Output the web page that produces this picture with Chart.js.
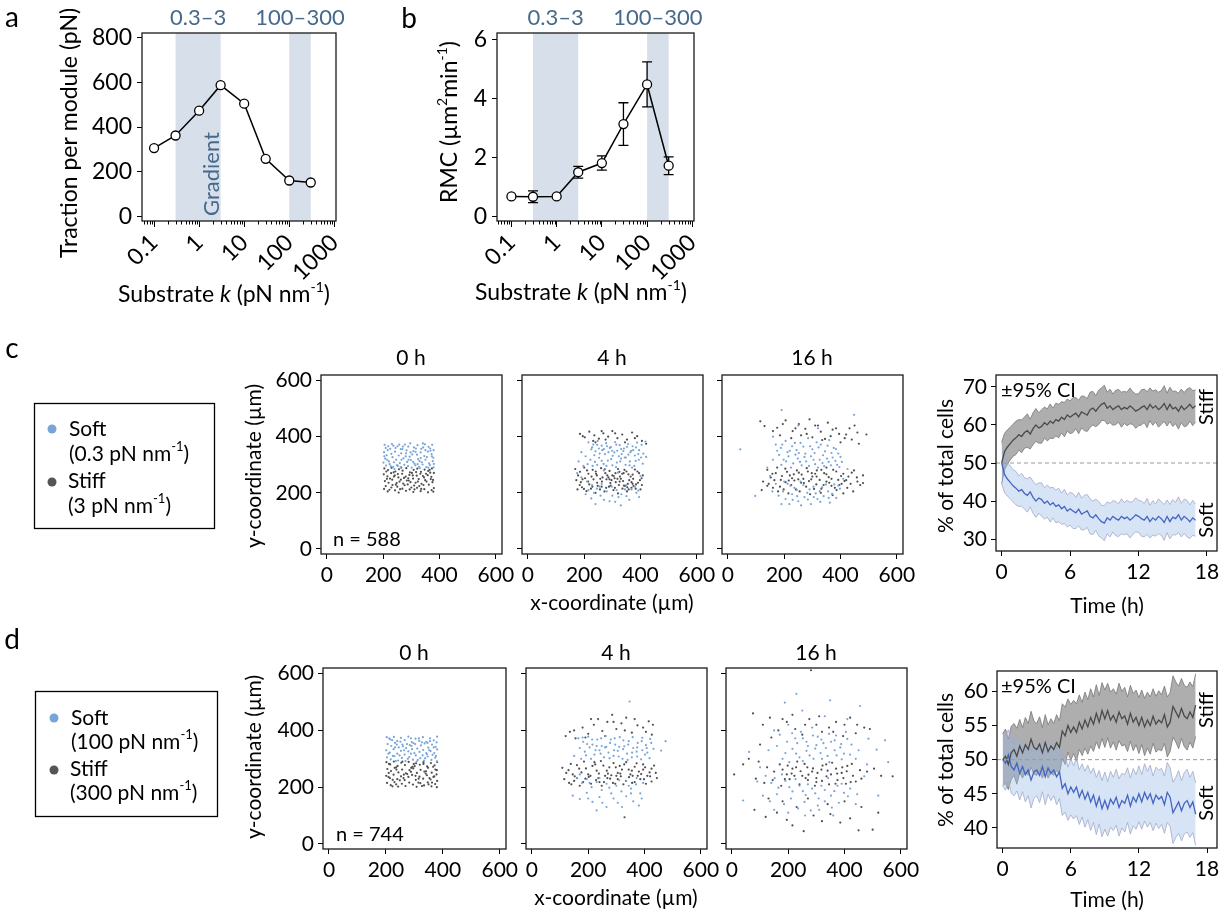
<!DOCTYPE html>
<html>
<head>
<meta charset="utf-8">
<title>Substrate stiffness and cell sorting</title>
<script src="https://cdn.jsdelivr.net/npm/chart.js@4.4.1/dist/chart.umd.min.js"></script>
<style>
  html, body { margin: 0; padding: 0; background: #fff; }
  #fig { position: relative; width: 1225px; height: 916px; overflow: hidden; }
  #fig canvas { position: absolute; left: 0; top: 0; }
</style>
</head>
<body>
<div id="fig">
  <canvas id="chartA" width="1225" height="916"></canvas>
  <canvas id="chartB" width="1225" height="916"></canvas>
  <canvas id="chartC0" width="1225" height="916"></canvas>
  <canvas id="chartC4" width="1225" height="916"></canvas>
  <canvas id="chartC16" width="1225" height="916"></canvas>
  <canvas id="chartCT" width="1225" height="916"></canvas>
  <canvas id="chartD0" width="1225" height="916"></canvas>
  <canvas id="chartD4" width="1225" height="916"></canvas>
  <canvas id="chartD16" width="1225" height="916"></canvas>
  <canvas id="chartDT" width="1225" height="916"></canvas>
</div>
<script>
// ---- panel a / b data ----
const kValues = [0.1, 0.3, 1, 3, 10, 30, 100, 300];
const tractionPN = [306, 362, 473, 587, 504, 258, 161, 152];
const rmcMean = [0.68, 0.67, 0.68, 1.50, 1.81, 3.13, 4.47, 1.72];
const rmcErr = [0, 0.20, 0, 0.20, 0.24, 0.72, 0.76, 0.30];
const gradientBands = [[0.3, 3], [100, 300]];
const bandLabels = ["0.3\u20133", "100\u2013300"];
const logTicks = [0.1, 1, 10, 100, 1000];
const tractionTicks = [0, 200, 400, 600, 800];
const rmcTicks = [0, 2, 4, 6];

// ---- panel c / d scatter data (x, y pairs in µm) ----
const coordTicks = [0, 200, 400, 600];

const c0Soft = [205,371, 218,366, 231,374, 244,360, 257,372, 270,365, 283,351, 296,376, 309,362, 322,370, 335,357, 348,373, 361,364, 374,371, 379,352,
  203,345, 216,352, 229,339, 242,347, 255,333, 268,356, 281,341, 294,329, 307,349, 320,336, 333,344, 346,331, 359,347, 372,338, 378,325,
  207,322, 220,312, 233,327, 246,318, 259,306, 272,323, 285,310, 298,317, 311,304, 324,320, 337,309, 350,318, 363,305, 376,313, 201,308,
  210,297, 223,302, 236,293, 249,299, 262,291, 275,300, 288,295, 301,290, 314,298, 327,293, 340,301, 353,292, 366,299, 379,291, 212,334,
  225,357, 238,309, 251,366, 264,341, 277,372, 290,318, 303,337, 316,358, 329,313, 342,362, 355,327, 368,350, 380,303, 240,285, 330,288,
  209,360, 236,368, 262,356, 289,365, 315,346, 341,376, 367,358, 214,318, 252,296, 280,330, 306,310, 333,324, 360,290, 373,330, 227,294,
  265,318, 297,344, 322,302, 350,352, 204,330];
const c0Stiff = [204,287, 217,281, 230,289, 243,276, 256,284, 269,279, 282,288, 295,273, 308,282, 321,286, 334,275, 347,283, 360,278, 373,287, 380,271,
  202,266, 215,259, 228,270, 241,262, 254,255, 267,268, 280,258, 293,264, 306,251, 319,261, 332,268, 345,255, 358,263, 371,257, 377,246,
  206,242, 219,236, 232,247, 245,229, 258,240, 271,233, 284,244, 297,238, 310,226, 323,240, 336,232, 349,245, 362,229, 375,238, 209,224,
  203,214, 216,205, 229,219, 242,209, 255,201, 268,215, 281,207, 294,212, 307,203, 320,218, 333,206, 346,213, 359,202, 372,210, 380,217,
  224,251, 237,273, 250,222, 263,247, 276,227, 289,252, 302,271, 315,236, 328,224, 341,260, 354,240, 367,272, 287,230, 311,212, 252,267,
  211,276, 238,258, 264,290, 291,244, 317,274, 343,228, 369,249, 222,211, 248,235, 274,253, 300,219, 326,249, 352,268, 378,204, 213,250,
  260,213, 305,262, 335,214, 365,282, 233,228];
const c4Soft = [215,380, 232,372, 248,385, 262,368, 278,377, 295,363, 310,381, 326,370, 341,358, 356,374, 372,366, 388,379, 404,371, 418,383, 225,355,
  240,348, 255,340, 270,356, 286,345, 301,332, 317,350, 333,338, 348,326, 364,345, 380,333, 395,352, 410,340, 190,345, 205,330, 222,318,
  238,310, 253,325, 269,303, 284,315, 300,298, 316,308, 331,322, 347,300, 362,312, 378,296, 394,318, 408,304, 180,312, 197,296, 420,328,
  190,255, 210,240, 228,228, 245,215, 262,232, 280,205, 298,222, 315,210, 332,195, 350,228, 368,212, 385,200, 205,195, 225,180, 258,190,
  290,170, 322,185, 360,175, 392,208, 175,270, 400,260, 240,160, 330,155,
  228,362, 246,371, 264,352, 281,366, 299,350, 314,372, 331,356, 352,364, 367,350, 384,362, 236,334, 252,358, 274,338, 291,360, 307,344,
  323,330, 339,349, 357,336, 374,352, 392,338, 246,300, 262,314, 279,296, 296,320, 313,292, 328,312, 344,326, 361,298, 383,314, 402,326,
  212,302, 230,296, 270,280, 320,272, 370,290, 215,210, 255,222, 300,190, 345,212, 380,222, 270,175, 310,168, 350,188, 235,200, 395,185];
const c4Stiff = [185,410, 202,398, 218,418, 236,405, 252,393, 268,412, 285,400, 300,420, 318,395, 335,408, 352,390, 370,415, 388,402, 405,385, 420,375,
  232,385, 276,390, 345,380,
  168,285, 185,275, 200,290, 215,268, 230,282, 245,262, 260,288, 275,270, 290,278, 305,260, 320,285, 335,268, 350,276, 365,258, 380,283, 395,270, 408,262,
  172,245, 188,238, 203,252, 218,230, 233,248, 248,225, 263,240, 278,218, 293,235, 308,252, 323,228, 338,242, 353,220, 368,238, 383,215, 398,245,
  176,212, 192,220, 208,206, 224,215, 240,200, 256,212, 272,205, 288,222, 304,210, 320,198, 336,215, 352,205, 368,218, 384,230, 400,212,
  242,268, 286,255, 330,250, 372,265, 312,238, 355,232, 265,255, 300,262, 318,250, 340,270, 360,245, 325,275, 345,225, 290,248, 372,232,
  178,262, 194,248, 210,280, 226,258, 241,276, 257,250, 273,284, 282,262, 297,245, 311,270, 327,258, 343,282, 357,266, 374,250, 389,276,
  404,252, 184,228, 199,214, 214,240, 229,222, 246,236, 262,222, 279,248, 294,226, 309,218, 326,240, 341,226, 358,212, 375,224, 391,236,
  405,228, 195,402, 262,420, 310,412, 380,395, 240,380];
const c16Soft = [44,355, 97,189, 191,495, 448,478,
  170,372, 188,360, 205,385, 220,350, 238,378, 252,342, 268,365, 285,395, 300,355, 315,380, 330,372, 345,348, 360,388, 376,360, 392,340,
  182,335, 198,318, 215,330, 232,305, 248,322, 262,298, 278,312, 295,330, 310,302, 326,318, 342,295, 358,310, 372,326, 388,300, 160,318,
  140,290, 405,310, 425,285, 150,260,
  200,240, 222,225, 245,210, 268,228, 290,212, 312,198, 335,220, 356,205, 378,230, 398,215,
  158,205, 180,190, 205,178, 228,195, 250,170, 272,185, 295,160, 318,178, 340,188, 362,165, 385,182, 190,160, 305,185, 260,155, 230,175,
  175,350, 193,372, 212,345, 228,366, 244,352, 258,378, 275,340, 292,366, 308,342, 322,362, 338,334, 354,368, 368,342, 384,356, 400,328,
  190,300, 207,312, 224,290, 240,336, 256,310, 272,328, 288,296, 304,318, 320,290, 336,306, 352,322, 366,298, 382,314, 396,292, 212,232,
  236,218, 258,240, 282,200, 304,222, 326,206, 348,230, 370,196, 392,226, 170,232, 196,205, 218,160, 246,188, 284,176, 328,168, 358,182,
  250,440, 320,430, 160,400, 410,250];
const c16Stiff = [115,455, 130,438, 175,432, 205,458, 230,420, 252,445, 275,428, 290,462, 310,440, 330,418, 355,450, 372,425, 395,410, 415,395, 432,430,
  460,415, 492,408, 185,405, 225,395, 260,405, 300,398, 335,388, 365,402, 400,380, 440,390, 465,375,
  140,282, 158,268, 175,290, 192,260, 210,275, 228,252, 245,280, 262,265, 280,288, 298,270, 315,258, 332,282, 350,266, 368,250, 385,276,
  402,260, 420,245, 440,272, 458,255, 480,262,
  125,240, 145,232, 165,245, 185,222, 205,238, 225,228, 242,212, 260,236, 278,222, 296,248, 314,230, 332,215, 350,240, 368,225, 386,210,
  404,232, 424,218, 445,205, 470,228,
  178,205, 215,198, 255,205, 292,195, 330,200, 372,192, 410,198, 250,248, 310,268, 350,290,
  152,255, 170,270, 188,246, 204,286, 220,262, 236,244, 252,272, 268,250, 284,276, 300,258, 316,280, 326,246, 342,270, 358,256, 374,282,
  392,246, 410,268, 428,258, 448,280, 140,225, 160,218, 198,212, 216,244, 234,266, 270,235, 288,242, 306,214, 340,228, 360,236, 380,218,
  396,228, 414,242, 436,232, 460,240, 160,420, 195,445, 240,430, 280,410, 320,440, 345,392, 384,430, 420,408, 450,440, 120,210, 480,235];

const d0Soft = [203,376, 215,368, 228,377, 240,362, 253,374, 266,366, 279,378, 291,359, 304,371, 317,363, 330,376, 342,360, 355,372, 368,365, 380,378,
  206,352, 219,345, 232,356, 245,340, 258,350, 271,338, 284,348, 297,355, 310,336, 323,347, 336,354, 349,339, 362,350, 375,342, 378,358,
  201,330, 214,322, 227,334, 240,318, 253,328, 266,315, 279,326, 292,334, 305,312, 318,324, 331,331, 344,316, 357,327, 370,320, 380,333,
  204,305, 217,298, 230,309, 243,294, 256,303, 269,292, 282,306, 295,297, 308,290, 321,302, 334,294, 347,308, 360,296, 373,304, 379,291,
  222,366, 248,312, 274,352, 300,320, 326,358, 352,330, 232,340, 288,372, 338,302, 364,314,
  212,372, 238,350, 264,330, 290,345, 316,372, 342,320, 368,340, 225,310, 251,360, 277,300, 303,352, 329,312, 355,362, 376,310, 209,318,
  260,344, 312,296, 346,356, 235,292, 288,318];
const d0Stiff = [202,288, 215,280, 228,290, 241,275, 254,286, 267,278, 280,289, 293,272, 306,284, 319,279, 332,288, 345,273, 358,285, 371,277, 380,289,
  205,264, 218,257, 231,268, 244,252, 257,262, 270,249, 283,260, 296,266, 309,250, 322,261, 335,255, 348,268, 361,251, 374,262, 378,245,
  201,240, 214,232, 227,244, 240,228, 253,238, 266,225, 279,236, 292,243, 305,226, 318,237, 331,230, 344,242, 357,227, 370,238, 380,222,
  204,215, 217,207, 230,218, 243,202, 256,212, 269,204, 282,216, 295,209, 308,201, 321,214, 334,206, 347,217, 360,203, 373,211, 379,200,
  210,250, 236,270, 262,232, 288,254, 314,216, 340,248, 366,272, 224,226, 350,210, 298,282,
  211,282, 237,262, 263,244, 289,268, 315,230, 341,256, 367,236, 223,203, 249,224, 275,246, 301,274, 327,204, 353,232, 379,260, 209,236,
  258,290, 304,240, 332,282, 362,216, 236,210];
const d4Soft = [347,502, 475,362, 459,329,
  165,372, 182,360, 200,378, 215,350, 232,368, 248,345, 262,380, 278,356, 294,372, 310,342, 325,365, 342,350, 358,376, 374,340, 390,362,
  405,348, 420,370, 432,335,
  170,338, 188,325, 205,340, 222,315, 240,330, 256,305, 272,322, 290,310, 305,328, 322,300, 338,318, 355,305, 372,325, 388,298, 402,315,
  418,302, 150,310, 175,300,
  160,232, 178,215, 195,228, 212,200, 230,218, 248,190, 265,212, 282,178, 300,205, 318,185, 335,222, 352,195, 370,210, 385,178,
  145,170, 170,158, 195,180, 215,148, 240,165, 265,130, 290,160, 305,145, 335,168, 360,150, 380,135, 230,118,
  180,375, 196,352, 214,368, 230,345, 246,372, 264,342, 280,368, 296,350, 312,376, 328,344, 344,362, 360,338, 376,356, 392,374, 408,338,
  424,356, 192,312, 210,300, 226,330, 244,318, 260,340, 276,302, 292,330, 308,308, 324,334, 340,296, 356,322, 374,308, 392,330, 410,322,
  170,245, 205,215, 240,232, 275,198, 310,225, 344,205, 372,232, 395,215, 200,160, 250,145, 320,130, 352,178, 390,160];
const d4Stiff = [329,94,
  120,380, 135,395, 155,372, 180,410, 200,388, 220,420, 235,440, 250,398, 268,430, 285,455, 300,405, 318,425, 335,445, 355,392, 375,418,
  395,410, 415,432, 426,385,
  108,268, 122,250, 138,282, 152,238, 168,265, 185,290, 200,245, 215,275, 230,258, 245,292, 260,240, 275,270, 290,285, 305,250, 320,262,
  335,288, 350,245, 365,272, 380,255, 395,280, 410,240, 425,265, 440,250,
  115,228, 132,215, 150,222, 170,205, 190,230, 210,212, 228,225, 248,205, 268,232, 288,215, 305,228, 325,210, 345,235, 365,218, 385,228,
  405,212, 425,220, 444,232, 225,280, 270,248, 312,275, 355,258, 395,262, 240,218, 300,240,
  130,260, 145,245, 160,278, 176,252, 192,266, 208,240, 222,288, 238,248, 254,276, 266,258, 282,242, 298,270, 314,248, 328,280, 344,262,
  358,240, 372,284, 388,246, 402,270, 418,252, 434,276, 140,210, 160,232, 182,218, 202,236, 236,232, 256,218, 278,230, 296,212, 316,238,
  334,222, 356,215, 376,240, 398,228, 420,238, 150,400, 190,375, 210,440, 260,380, 290,430, 330,400, 365,440, 405,395, 430,420];
const d16Soft = [229,529, 188,498, 349,506, 455,486, 40,153, 61,324, 555,288, 544,365, 485,371, 514,332,
  150,400, 170,385, 200,420, 225,372, 245,395, 265,360, 285,410, 305,378, 325,355, 345,388, 365,365, 385,340, 405,395, 425,350,
  130,330, 160,345, 190,320, 215,335, 240,305, 265,328, 290,300, 315,320, 340,310, 365,330, 390,298, 420,315, 450,330,
  100,270, 480,280, 120,240, 470,238,
  140,215, 165,198, 190,222, 215,185, 240,205, 262,172, 285,195, 308,160, 330,190, 352,170, 375,205, 398,180, 420,195, 445,175,
  110,170, 135,150, 160,175, 185,140, 210,160, 235,125, 258,148, 280,118, 305,135, 330,150, 355,128, 380,145, 520,170,
  196,360, 214,390, 232,355, 252,372, 270,345, 288,382, 300,348, 318,368, 334,338, 352,360, 370,382, 388,352, 410,370, 180,300, 204,288,
  228,318, 252,292, 276,312, 296,336, 320,300, 346,288, 372,312, 398,318, 440,300, 152,232, 178,245, 204,200, 226,228, 252,186, 270,210,
  296,178, 318,205, 342,232, 364,186, 390,212, 412,168, 150,120, 200,110, 260,100, 310,120, 360,100, 440,140, 250,470, 330,450, 410,440, 90,220];
const d16Stiff = [281,612, 8,245, 571,238,
  75,460, 110,420, 135,445, 165,400, 195,430, 225,405, 250,385, 275,440, 300,420, 320,395, 345,410, 370,430, 395,380, 420,445, 445,420, 470,410,
  95,290, 125,270, 150,255, 170,280, 195,245, 215,265, 232,290, 250,240, 268,270, 285,255, 300,232, 318,262, 335,280, 352,245, 370,265,
  390,250, 410,275, 430,240, 455,260, 480,255, 505,265, 530,240,
  85,230, 115,215, 145,225, 175,205, 205,228, 240,210, 270,225, 295,205, 320,222, 345,210, 375,225, 405,212, 440,220,
  80,120, 120,95, 160,110, 195,85, 215,65, 255,45, 290,100, 320,80, 350,105, 385,75, 420,90, 450,48, 500,50,
  180,262, 198,276, 212,248, 228,270, 244,256, 258,282, 272,244, 288,266, 304,250, 322,276, 340,258, 356,286, 374,248, 392,270, 408,256,
  426,282, 188,228, 222,240, 262,232, 300,218, 336,238, 368,212, 396,232, 422,218, 460,230, 60,300, 100,350, 140,375, 180,440, 215,455,
  260,420, 310,450, 360,395, 400,420, 440,390, 490,405, 130,160, 180,150, 230,130, 270,160, 340,140, 400,150, 460,130, 520,110, 40,280];

// ---- time courses: % stiff cells every 0.25 h, with 95% CI half-width ----
const sampleStepH = 0.25;
const timeTicks = [0, 6, 12, 18];
const pctTicksC = [30, 40, 50, 60, 70];
const pctTicksD = [40, 45, 50, 55, 60];
const evenSplit = 50;
const cStiffPct = [50, 53, 54.2, 55.1, 56, 56.6, 57.4, 57, 58, 58.5, 57.6, 59, 60, 59.2, 59.6, 60.6,
  60, 61, 60.4, 61.4, 61, 62, 61.4, 62.6, 62, 62.6, 63.1, 62.1, 63.4, 63, 62.6, 64,
  64.4, 63.6, 64.6, 65.4, 65.8, 64.4, 65, 64, 64.6, 65, 64, 64.6, 64.2, 65, 64.4, 63.6,
  64, 64.6, 65, 64, 65.4, 64.4, 65, 64, 64.6, 65.6, 64, 65.4, 64.2, 64.6, 63.6, 65,
  64, 64.6, 65.4, 64.4, 65];
const cCiHalf = [5.5, 4.8, 4.5, 4.3, 4.2, 4.4, 4.0, 4.3, 4.1, 4.4, 3.9, 4.2, 4.3, 4.0, 4.4, 4.1,
  4.2, 4.5, 4.0, 4.3, 4.4, 4.1, 4.5, 4.2, 4.3, 4.6, 4.1, 4.4, 4.2, 4.5, 4.3, 4.6,
  4.4, 4.1, 4.5, 4.3, 4.6, 4.2, 4.4, 4.1, 4.5, 4.3, 4.6, 4.2, 4.4, 4.7, 4.3, 4.5,
  4.2, 4.6, 4.4, 4.7, 4.3, 4.5, 4.2, 4.6, 4.4, 4.7, 4.3, 4.5, 4.6, 4.3, 4.7, 4.4,
  4.5, 4.8, 4.4, 4.6, 4.2];
const dStiffPct = [50, 50.5, 49.3, 51, 51.5, 50.5, 52, 51, 52.2, 51.5, 53, 51.8, 51.5, 52.3, 51, 52.5,
  51.2, 52, 51.5, 52.5, 51.8, 54.2, 53.5, 55, 54, 54.8, 54, 55.5, 54.5, 55.8, 54.8, 56.2,
  55.2, 56.8, 55.5, 57.2, 56, 57.2, 55.8, 56.5, 55.5, 57, 56, 56.4, 55.2, 56.8, 55.5, 56.2,
  55, 56.2, 54.8, 55.8, 55, 56.4, 55.2, 55.8, 55.4, 56.6, 54.8, 55.5, 57.8, 57, 56.2, 57.5,
  56.4, 56, 57, 56.2, 58];
const dCiHalf = [3.8, 4.0, 3.7, 3.9, 3.8, 4.1, 3.9, 3.7, 4.0, 3.8, 4.1, 3.9, 3.8, 4.0, 3.7, 4.1,
  3.9, 4.0, 3.8, 4.1, 3.9, 4.0, 4.2, 3.9, 4.1, 3.9, 4.2, 4.0, 3.9, 4.1, 4.0, 4.2,
  4.0, 4.2, 3.9, 4.1, 4.2, 4.0, 4.1, 3.9, 4.1, 4.2, 4.0, 4.2, 4.0, 4.1, 4.2, 4.0,
  4.1, 4.0, 4.2, 4.1, 4.2, 4.0, 4.1, 4.3, 4.1, 4.2, 4.4, 4.3, 4.5, 4.4, 4.6, 4.4,
  4.5, 4.6, 4.4, 4.5, 4.6];

// ---- styling ----
const W = 1225, H = 916;
const FONT = "Lato, 'Open Sans', sans-serif";
const bandFill = "#d7e0ea";
const bandText = "#46698c";
const softDot = "#78a5d8";
const stiffDot = "#4f4f4f";

Chart.defaults.font.family = FONT;
Chart.defaults.color = "#000";
Chart.defaults.animation = false;
Chart.defaults.responsive = false;
Chart.defaults.plugins.legend.display = false;
Chart.defaults.plugins.tooltip.enabled = false;

function pairs(flat) {
  const out = [];
  for (let i = 0; i < flat.length; i += 2) out.push({ x: flat[i], y: flat[i + 1] });
  return out;
}

// text with italic / superscript pieces: parts = [[text, style]], style "" | "i" | "s"
function richText(ctx, it) {
  const size = it.s || 20;
  const parts = typeof it.p === "string" ? [[it.p, ""]] : it.p;
  const fontFor = st => (st === "i" ? "italic " : "") + (st === "s" ? Math.round(size * 0.62) : size) + "px " + FONT;
  let w = 0;
  parts.forEach(([t, st]) => { ctx.font = fontFor(st); w += ctx.measureText(t).width; });
  ctx.save();
  ctx.translate(it.x, it.y);
  if (it.r) ctx.rotate(it.r);
  ctx.fillStyle = it.c || "#000";
  ctx.textBaseline = "middle";
  ctx.textAlign = "left";
  let cx = it.a === "left" ? 0 : -w / 2;
  parts.forEach(([t, st]) => {
    ctx.font = fontFor(st);
    ctx.fillText(t, cx, st === "s" ? -size * 0.33 : 0);
    cx += ctx.measureText(t).width;
  });
  ctx.restore();
}

function notes(items, shapes) {
  return {
    id: "notes",
    afterDraw(chart) {
      const ctx = chart.ctx;
      (shapes || []).forEach(sh => {
        ctx.save();
        if (sh.rect) {
          ctx.strokeStyle = "#000"; ctx.lineWidth = 1.3;
          ctx.strokeRect(sh.rect[0], sh.rect[1], sh.rect[2], sh.rect[3]);
        } else if (sh.dot) {
          ctx.fillStyle = sh.dot[3];
          ctx.beginPath(); ctx.arc(sh.dot[0], sh.dot[1], sh.dot[2], 0, Math.PI * 2); ctx.fill();
        }
        ctx.restore();
      });
      items.forEach(it => richText(ctx, it));
    }
  };
}

const framePlugin = {
  id: "frame",
  afterDraw(chart) {
    const { ctx, chartArea: a } = chart;
    ctx.save();
    ctx.strokeStyle = "#1a1a1a";
    ctx.lineWidth = 1.3;
    ctx.strokeRect(a.left, a.top, a.right - a.left, a.bottom - a.top);
    ctx.restore();
  }
};
Chart.register(framePlugin);

const gradientShade = {
  id: "gradientShade",
  beforeDatasetsDraw(chart) {
    const { ctx, chartArea: a, scales: { x } } = chart;
    ctx.save();
    ctx.fillStyle = bandFill;
    gradientBands.forEach(([lo, hi]) => {
      const x0 = x.getPixelForValue(lo), x1 = x.getPixelForValue(hi);
      ctx.fillRect(x0, a.top, x1 - x0, a.bottom - a.top);
    });
    ctx.font = "22px " + FONT;
    ctx.fillStyle = bandText;
    ctx.textAlign = "center";
    ctx.textBaseline = "middle";
    gradientBands.forEach(([lo, hi], i) => {
      const cx = (x.getPixelForValue(lo) + x.getPixelForValue(hi)) / 2;
      ctx.fillText(bandLabels[i], cx, 18);
    });
    ctx.restore();
  }
};

const minorLogTicks = {
  id: "minorLogTicks",
  afterDraw(chart) {
    const { ctx, chartArea: a, scales: { x } } = chart;
    ctx.save();
    ctx.strokeStyle = "#000";
    ctx.lineWidth = 1;
    ctx.beginPath();
    for (let e = -2; e <= 3; e++) {
      for (let k = 2; k <= 9; k++) {
        const v = k * Math.pow(10, e);
        if (v < x.min || v > x.max) continue;
        const px = Math.round(x.getPixelForValue(v)) + 0.5;
        ctx.moveTo(px, a.bottom);
        ctx.lineTo(px, a.bottom + 3.5);
      }
    }
    ctx.stroke();
    ctx.restore();
  }
};

const errorBars = {
  id: "errorBars",
  beforeDatasetsDraw(chart) {
    const { ctx, scales: { x, y } } = chart;
    ctx.save();
    ctx.strokeStyle = "#000";
    ctx.lineWidth = 1.3;
    ctx.beginPath();
    kValues.forEach((k, i) => {
      if (!rmcErr[i]) return;
      const px = x.getPixelForValue(k);
      const y1 = y.getPixelForValue(rmcMean[i] + rmcErr[i]);
      const y2 = y.getPixelForValue(rmcMean[i] - rmcErr[i]);
      ctx.moveTo(px, y1); ctx.lineTo(px, y2);
      ctx.moveTo(px - 5, y1); ctx.lineTo(px + 5, y1);
      ctx.moveTo(px - 5, y2); ctx.lineTo(px + 5, y2);
    });
    ctx.stroke();
    ctx.restore();
  }
};

const midLine = {
  id: "midLine",
  afterDatasetsDraw(chart) {
    const { ctx, chartArea: a, scales: { y } } = chart;
    const py = y.getPixelForValue(evenSplit);
    ctx.save();
    ctx.setLineDash([4, 3]);
    ctx.strokeStyle = "#9a9a9a";
    ctx.lineWidth = 1;
    ctx.beginPath();
    ctx.moveTo(a.left, py);
    ctx.lineTo(a.right, py);
    ctx.stroke();
    ctx.restore();
  }
};

function linAxis(min, max, ticks, size, labels, extra) {
  return Object.assign({
    type: "linear", min, max, bounds: "data",
    afterBuildTicks: s => { s.ticks = ticks.map(v => ({ value: v })); },
    grid: { drawOnChartArea: false, drawTicks: true, tickLength: 5, color: "#000", lineWidth: 1 },
    border: { display: false },
    ticks: { font: { size }, color: "#000", padding: 4, autoSkip: false, maxRotation: 0, minRotation: 0,
      callback: v => (labels ? String(v) : "") }
  }, extra || {});
}

function logAxis(min, max) {
  return {
    type: "logarithmic", min, max, bounds: "data",
    afterBuildTicks: s => { s.ticks = logTicks.map(v => ({ value: v })); },
    grid: { drawOnChartArea: false, drawTicks: true, tickLength: 6, color: "#000", lineWidth: 1 },
    border: { display: false },
    ticks: { font: { size: 23 }, color: "#000", padding: 2, autoSkip: false, minRotation: 45, maxRotation: 45,
      callback: v => String(v) }
  };
}

// frame = [left, top, right, bottom, y-axis width, x-axis height] in page pixels
function build(id, type, frame, datasets, scales, plugins) {
  const [l, t, r, b, yw, xh] = frame;
  scales.x.afterFit = s => { s.height = xh; };
  scales.y.afterFit = s => { s.width = yw; };
  return new Chart(document.getElementById(id), {
    type,
    data: { datasets },
    options: {
      events: [],
      layout: { padding: { left: l - yw, top: t, right: W - r, bottom: H - b - xh } },
      scales
    },
    plugins
  });
}

const kSub = [["Substrate ", ""], ["k", "i"], [" (pN nm", ""], ["-1", "s"], [")", ""]];
const marker = { pointRadius: 4.5, pointBackgroundColor: "#fff", pointBorderColor: "#000", pointBorderWidth: 1.3,
  borderColor: "#000", borderWidth: 1.5, tension: 0 };
const bigTicks = { ticks: { font: { size: 23 }, color: "#000", padding: 5, callback: v => String(v) } };

// ---- panel a ----
build("chartA", "line", [142, 33, 336, 221, 80, 60],
  [Object.assign({ data: kValues.map((k, i) => ({ x: k, y: tractionPN[i] })) }, marker)],
  { x: logAxis(0.054, 1090), y: linAxis(-20, 820, tractionTicks, 23, true, bigTicks) },
  [gradientShade, minorLogTicks, notes([
    { p: "a", x: 12, y: 18, s: 28 },
    { p: "Traction per module (pN)", x: 70, y: 133, s: 23, r: -Math.PI / 2 },
    { p: kSub, x: 224, y: 295, s: 23 },
    { p: "Gradient", x: 212, y: 174, s: 22, r: -Math.PI / 2, c: bandText }
  ])]);

// ---- panel b ----
build("chartB", "line", [497, 33, 694, 221, 70, 60],
  [Object.assign({ data: kValues.map((k, i) => ({ x: k, y: rmcMean[i] })) }, marker)],
  { x: logAxis(0.048, 1090), y: linAxis(-0.15, 6.21, rmcTicks, 23, true, bigTicks) },
  [gradientShade, errorBars, minorLogTicks, notes([
    { p: "b", x: 409, y: 19, s: 28 },
    { p: [["RMC (\u00b5m", ""], ["2", "s"], ["min", ""], ["-1", "s"], [")", ""]], x: 450, y: 122, s: 23, r: -Math.PI / 2 },
    { p: kSub, x: 581, y: 293, s: 23 }
  ])]);

// ---- scatter panels ----
function scatterPanel(id, frame, soft, stiff, yLabels, items, shapes) {
  const dots = (data, color) => ({ data: pairs(data), pointRadius: 1.1, pointBorderWidth: 0,
    pointBackgroundColor: color, pointBorderColor: color, backgroundColor: color });
  return build(id, "scatter", frame, [dots(soft, softDot), dots(stiff, stiffDot)], {
    x: linAxis(-21, 622, coordTicks, 21, true, {}),
    y: linAxis(-18, 620, coordTicks, 21, yLabels, {})
  }, [notes(items, shapes)]);
}

const yCoord = [["y-coordinate (\u00b5m)", ""]];
const xCoord = [["x-coordinate (\u00b5m)", ""]];
const nmInv = (v) => [["(" + v + " pN nm", ""], ["-1", "s"], [")", ""]];

scatterPanel("chartC0", [321, 375, 502, 554, 60, 50], c0Soft, c0Stiff, true, [
  { p: "c", x: 12, y: 349, s: 28 },
  { p: "0 h", x: 411, y: 358, s: 21 },
  { p: "n = 588", x: 333, y: 540, s: 20, a: "left" },
  { p: yCoord, x: 254, y: 466, s: 21, r: -Math.PI / 2 },
  { p: xCoord, x: 612, y: 603, s: 21 },
  { p: "Soft", x: 69, y: 429, s: 21, a: "left" },
  { p: nmInv("0.3"), x: 69, y: 454, s: 21, a: "left" },
  { p: "Stiff", x: 68, y: 481, s: 21, a: "left" },
  { p: nmInv("3"), x: 68, y: 506, s: 21, a: "left" }
], [{ rect: [34.5, 403.5, 180, 125] }, { dot: [52, 429, 4.5, softDot] }, { dot: [52, 482, 4.5, "#555"] }]);
scatterPanel("chartC4", [522, 375, 703, 554, 60, 50], c4Soft, c4Stiff, false, [
  { p: "4 h", x: 612, y: 358, s: 21 }
]);
scatterPanel("chartC16", [722, 375, 903, 554, 60, 50], c16Soft, c16Stiff, false, [
  { p: "16 h", x: 812, y: 358, s: 21 }
]);

scatterPanel("chartD0", [323, 668, 506, 849, 60, 50], d0Soft, d0Stiff, true, [
  { p: "d", x: 12, y: 640, s: 28 },
  { p: "0 h", x: 414, y: 653, s: 21 },
  { p: "n = 744", x: 336, y: 835, s: 20, a: "left" },
  { p: yCoord, x: 254, y: 757, s: 21, r: -Math.PI / 2 },
  { p: xCoord, x: 616, y: 898, s: 21 },
  { p: "Soft", x: 71, y: 718, s: 21, a: "left" },
  { p: nmInv("100"), x: 71, y: 742, s: 21, a: "left" },
  { p: "Stiff", x: 70, y: 769, s: 21, a: "left" },
  { p: nmInv("300"), x: 70, y: 793, s: 21, a: "left" }
], [{ rect: [35.5, 691.5, 182, 125] }, { dot: [54, 718, 4.5, softDot] }, { dot: [54, 770, 4.5, "#555"] }]);
scatterPanel("chartD4", [526, 668, 707, 849, 60, 50], d4Soft, d4Stiff, false, [
  { p: "4 h", x: 616, y: 653, s: 21 }
]);
scatterPanel("chartD16", [726, 668, 907, 849, 60, 50], d16Soft, d16Stiff, false, [
  { p: "16 h", x: 816, y: 653, s: 21 }
]);

// ---- time course panels ----
function timePanel(id, frame, stiffPct, ciHalf, yMin, yMax, yTicks, items) {
  const t = stiffPct.map((_, i) => i * sampleStepH);
  const pts = arr => arr.map((v, i) => ({ x: t[i], y: v }));
  const softPct = stiffPct.map(v => 100 - v);
  const line = (data, color, w, extra) => Object.assign({ data: pts(data), borderColor: color, borderWidth: w,
    pointRadius: 0, tension: 0, fill: false }, extra || {});
  return build(id, "line", frame, [
    line(stiffPct, "#4a4a4a", 1.3),
    line(softPct, "#4466c2", 1.3),
    line(softPct.map((v, i) => v + ciHalf[i]), "#a2aac8", 0.8),
    line(softPct.map((v, i) => v - ciHalf[i]), "#a2aac8", 0.8, { fill: "-1", backgroundColor: "rgba(150,185,228,0.38)" }),
    line(stiffPct.map((v, i) => v + ciHalf[i]), "#777", 0.8),
    line(stiffPct.map((v, i) => v - ciHalf[i]), "#777", 0.8, { fill: "-1", backgroundColor: "rgba(120,120,120,0.6)" })
  ], {
    x: linAxis(-0.5, 18.88, timeTicks, 21, true, {}),
    y: linAxis(yMin, yMax, yTicks, 21, true, {})
  }, [midLine, notes(items)]);
}

timePanel("chartCT", [996, 375, 1217, 551, 50, 50], cStiffPct, cCiHalf, 26.9, 73.1, pctTicksC, [
  { p: "% of total cells", x: 946, y: 466, s: 21, r: -Math.PI / 2 },
  { p: "Time (h)", x: 1107, y: 606, s: 21 },
  { p: "\u00b195% CI", x: 1001, y: 391, s: 20, a: "left" },
  { p: "Stiff", x: 1207, y: 407, s: 20, r: -Math.PI / 2 },
  { p: "Soft", x: 1207, y: 520, s: 20, r: -Math.PI / 2 }
]);
timePanel("chartDT", [997, 671, 1217, 848, 50, 50], dStiffPct, dCiHalf, 37.05, 63, pctTicksD, [
  { p: "% of total cells", x: 946, y: 760, s: 21, r: -Math.PI / 2 },
  { p: "Time (h)", x: 1107, y: 900, s: 21 },
  { p: "\u00b195% CI", x: 1001, y: 687, s: 20, a: "left" },
  { p: "Stiff", x: 1207, y: 710, s: 20, r: -Math.PI / 2 },
  { p: "Soft", x: 1207, y: 803, s: 20, r: -Math.PI / 2 }
]);
</script>
</body>
</html>
